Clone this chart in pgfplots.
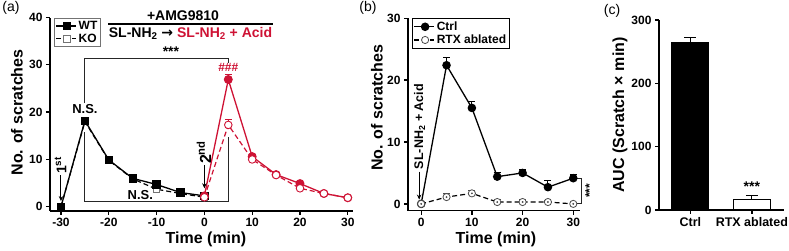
\documentclass[border=0pt]{standalone}
\usepackage{pgfplots}
\pgfplotsset{compat=1.18}
\usepackage{fontspec}
\setmainfont{Liberation Sans}
\newfontfamily\arrowfont{DejaVu Sans}
\usetikzlibrary{arrows.meta}
\definecolor{myred}{RGB}{206,18,52}

\pgfplotsset{
  myaxis/.style={
    axis lines=left,
    axis line style={-, line width=1.4pt},
    tick align=outside,
    major tick length=4pt,
    tick style={line width=1.3pt, black},
    clip=false,
    /pgf/number format/assume math mode=true,
    ticklabel style={font=\bfseries\fontsize{12}{12}\selectfont},
    legend image code/.code={\draw[mark repeat=2,mark phase=2,##1] plot coordinates {(0pt,0pt) (11pt,0pt) (20pt,0pt)};},
  },
  errp/.style={error bars/.cd, y dir=plus, y explicit,
    error bar style={#1, line width=1pt, solid},
    error mark options={#1, rotate=90, mark size=3.5pt, line width=1pt, solid}},
  dsh/.style={dash pattern=on 5pt off 3pt},
}

\begin{document}
\begin{tikzpicture}
\path[use as bounding box] (0,0) rectangle (789pt,251pt);

% ---------------- panel (a)
\begin{axis}[myaxis, at={(50pt,40pt)}, anchor=south west,
  x=4.78pt, y=4.73pt, xmin=-32.3, xmax=31, ymin=-0.9, ymax=40,
  xtick={-30,-20,...,30}, ytick={0,10,...,40},
  reverse legend,
  legend style={at={(0.013,1)}, anchor=north west, draw=black!55, line width=1pt,
    font=\bfseries\fontsize{12}{13}\selectfont, inner sep=1pt, row sep=-1pt},
  legend cell align=left]
\addplot[black, dsh, line width=1.2pt, mark=square*, mark size=3.3pt,
  mark options={solid, fill=white, draw=black!55, line width=0.9pt}]
  coordinates {(-30,0) (-25,18.0) (-20,9.8) (-15,5.9) (-10,3.7) (-5,2.8) (0,2.0)};
\addlegendentry{KO}
\addplot[black, line width=1.3pt, mark=square*, mark size=3.5pt, mark options={solid}]
  coordinates {(-30,0) (-25,18.2) (-20,9.9) (-15,6.0) (-10,4.7) (-5,3.0) (0,2.3)};
\addlegendentry{WT}
\addplot[myred, line width=1.3pt, mark=*, mark size=3.8pt, forget plot, errp=myred]
  coordinates {(0,2.3) +- (0,0.3) (5,26.9) +- (0,1.1) (10,10.6) +- (0,0.4) (15,6.8) +- (0,0.4)
               (20,4.9) +- (0,0.4) (25,2.8) +- (0,0.3) (30,1.9) +- (0,0.3)};
\addplot[myred, dsh, line width=1.2pt, mark=*, mark size=3.8pt, forget plot,
  mark options={solid, fill=white, line width=0.9pt}, errp=myred]
  coordinates {(0,2.0) +- (0,0.3) (5,17.3) +- (0,1.2) (10,10.0) +- (0,0.4) (15,6.7) +- (0,0.4)
               (20,3.9) +- (0,0.4) (25,2.8) +- (0,0.3) (30,1.9) +- (0,0.3)};
% brackets
\draw[black!85, line width=1pt] (axis cs:-25,21.9) -- (axis cs:-25,31.4) -- (axis cs:5,31.4) -- (axis cs:5,30.4);
\draw[black!85, line width=1pt] (axis cs:-25,15.8) -- (axis cs:-25,1.05) -- (axis cs:5,1.05) -- (axis cs:5,14.8);
\node[anchor=north, inner sep=0pt, font=\bfseries\fontsize{14}{14}\selectfont] at (axis cs:-7,33.9) {***};
\node[anchor=south, inner sep=0pt, font=\bfseries\fontsize{13}{13}\selectfont] at (axis cs:-25,19.6) {N.S.};
\node[anchor=south, inner sep=0pt, font=\bfseries\fontsize{13}{13}\selectfont] at (axis cs:-13.4,1.5) {N.S.};
\node[inner sep=0pt, text=myred, font=\bfseries\fontsize{12}{12}\selectfont] at (axis cs:5,29.4) {\#\#\#};
% arrows
\draw[line width=1pt, -{Stealth[length=5pt,width=4.5pt]}] (axis cs:-30,6.7) -- (axis cs:-30,1.2);
\node[rotate=90, anchor=west, inner sep=0pt, font=\bfseries\fontsize{14}{14}\selectfont] at (axis cs:-30.1,6.9) {1\textsuperscript{st}};
\draw[line width=1pt, -{Stealth[length=5pt,width=4.5pt]}] (axis cs:0,8.8) -- (axis cs:0,3.9);
\node[rotate=90, anchor=west, inner sep=0pt, font=\bfseries\fontsize{16}{16}\selectfont] at (axis cs:-0.1,9.0) {2\textsuperscript{nd}};
\end{axis}

% header of (a)
\node[font=\bfseries\fontsize{14}{14}\selectfont] at (183pt,235pt) {+AMG9810};
\draw[line width=1.2pt] (108pt,227pt) -- (273pt,227pt);
\node[font=\bfseries\fontsize{14}{14}\selectfont] at (190.5pt,217.5pt)
  {SL-NH\textsubscript{2} {\arrowfont\bfseries →} \textcolor{myred}{SL-NH\textsubscript{2} + Acid}};

% ---------------- panel (b)
\begin{axis}[myaxis, at={(408pt,40.3pt)}, anchor=south west,
  x=5.07pt, y=6.19pt, xmin=-2.6, xmax=31.4, ymin=-1.1, ymax=30,
  xtick={0,10,20,30}, ytick={0,10,20,30},
  legend style={at={(0.023,1)}, anchor=north west, draw=black, line width=1pt,
    font=\bfseries\fontsize{12}{13}\selectfont, inner sep=1pt, row sep=-1pt},
  legend cell align=left]
\addplot[black, line width=1.3pt, mark=*, mark size=3.6pt, errp=black]
  coordinates {(0,0) +- (0,0) (5,22.4) +- (0,1.3) (10,15.5) +- (0,1.1) (15,4.4) +- (0,0.7)
               (20,5.0) +- (0,0.5) (25,2.7) +- (0,1.0) (30,4.15) +- (0,0.6)};
\addlegendentry{Ctrl}
\addplot[black, dsh, line width=1.2pt, mark=*, mark size=3.6pt,
  mark options={solid, fill=white, draw=black!70, line width=0.8pt}, errp=black!70]
  coordinates {(0,0) +- (0,0) (5,1.1) +- (0,0.6) (10,1.7) +- (0,0.5) (15,0.3) +- (0,0.4)
               (20,0.3) +- (0,0.4) (25,0.3) +- (0,0.3) (30,0.0) +- (0,0.3)};
\addlegendentry{RTX ablated}
\addplot[only marks, mark=*, mark size=0.7pt, black!70, forget plot]
  coordinates {(0,0) (5,1.1) (10,1.7) (15,0.3) (20,0.3) (25,0.3) (30,0.0)};
\draw[line width=1pt, -{Stealth[length=5pt,width=4.5pt]}] (axis cs:-0.4,5.2) -- (axis cs:-0.4,0.7);
\node[rotate=90, anchor=west, inner sep=0pt, font=\bfseries\fontsize{12.5}{12.5}\selectfont] at (axis cs:-0.3,5.6) {SL-NH\textsubscript{2} + Acid};
\draw[black!85, line width=0.9pt] (axis cs:30.8,4.15) -- (axis cs:31.6,4.15) -- (axis cs:31.6,0) -- (axis cs:30.8,0);
\node[rotate=90, inner sep=0pt, font=\bfseries\fontsize{12}{12}\selectfont] at (axis cs:33.2,2.1) {***};
\end{axis}

% ---------------- panel (c)
\begin{axis}[myaxis, at={(659pt,41pt)}, anchor=south west,
  x=61.5pt, y=0.6333pt, xmin=-0.51, xmax=1.52, ymin=0, ymax=300,
  xtick={0,1}, xticklabels={Ctrl,RTX ablated}, ytick={0,100,200,300},
  xticklabel style={font=\bfseries\fontsize{12.5}{12.5}\selectfont}]
\addplot[ybar, bar width=37pt, bar shift=0pt, fill=black, draw=black, line width=1pt,
  error bars/.cd, y dir=plus, y explicit, error bar style={black, line width=1pt},
  error mark options={black, rotate=90, mark size=6pt, line width=1pt}]
  coordinates {(0,265) +- (0,8)};
\addplot[ybar, bar width=37pt, bar shift=0pt, fill=white, draw=black, line width=1pt,
  error bars/.cd, y dir=plus, y explicit, error bar style={black, line width=1pt},
  error mark options={black, rotate=90, mark size=6pt, line width=1pt}]
  coordinates {(1,17) +- (0,6)};
\node[anchor=north, inner sep=0pt, font=\bfseries\fontsize{14}{14}\selectfont] at (axis cs:1,45) {***};
\end{axis}

% labels
\node[font=\fontsize{14}{14}\selectfont] at (11pt,243pt) {(a)};
\node[font=\fontsize{14}{14}\selectfont] at (368pt,243pt) {(b)};
\node[font=\fontsize{14}{14}\selectfont] at (612pt,240pt) {(c)};
\node[rotate=90, font=\bfseries\fontsize{16}{16}\selectfont] at (17pt,138.5pt) {No. of scratches};
\node[rotate=90, font=\bfseries\fontsize{16}{16}\selectfont] at (377pt,143pt) {No. of scratches};
\node[rotate=90, font=\bfseries\fontsize{16}{16}\selectfont] at (620pt,136pt) {AUC (Scratch × min)};
\node[font=\bfseries\fontsize{16}{16}\selectfont] at (206pt,12pt) {Time (min)};
\node[font=\bfseries\fontsize{16}{16}\selectfont] at (496pt,12pt) {Time (min)};
\end{tikzpicture}
\end{document}
